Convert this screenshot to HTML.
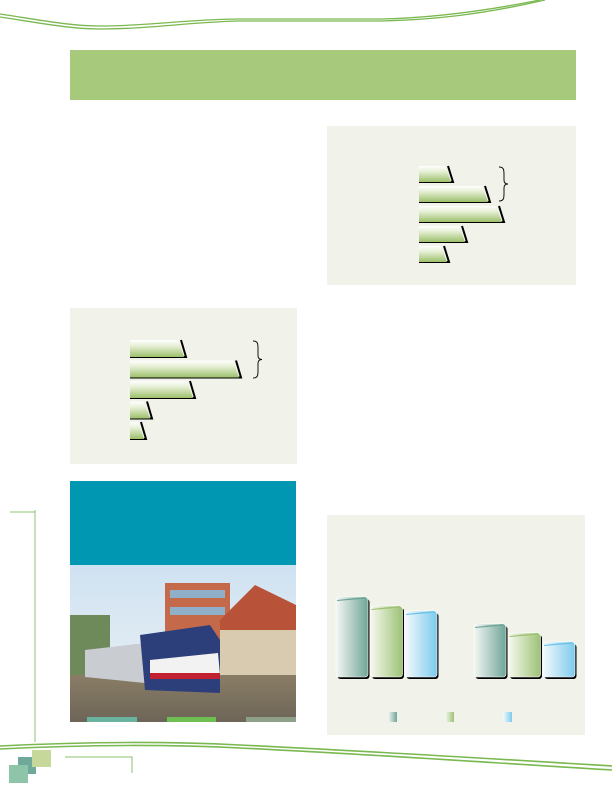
<!DOCTYPE html>
<html><head><meta charset="utf-8"><style>
html,body{margin:0;padding:0;background:#fff}
body{width:612px;height:792px;position:relative;overflow:hidden;font-family:"Liberation Sans",sans-serif}
.abs{position:absolute}
</style></head><body>
<svg class="abs" style="left:0;top:0" width="612" height="792">
  <g fill="none" stroke="#7ab850" stroke-width="1.3">
    <path d="M0,14 C40,20 70,26 100,26 C150,26 190,19 240,19 L380,19 C430,18 480,12 540,0"/>
    <path d="M0,17 C40,23 70,29 100,29 C150,29 190,22 240,21 L380,21 C430,20 480,15 545,0"/>
  </g>
  <g fill="none" stroke="#7ab850" stroke-width="1.6">
    <path d="M0,746 C80,742 160,741 240,745 C350,750 480,758 612,766"/>
    <path d="M0,749 C80,745 160,744 240,748 C350,753 480,762 612,770"/>
  </g>
  <path d="M35,510 L35,742 M10,512 L35,512" stroke="#8cc070" stroke-width="1" fill="none"/>
  <path d="M65,757 L132,757 L132,773" stroke="#8cc070" stroke-width="1" fill="none"/>
  <rect x="18" y="757" width="18" height="17" fill="#6fa99a"/>
  <rect x="9" y="765" width="19" height="18" fill="#8ec4aa"/>
  <rect x="32" y="750" width="19" height="17" fill="#c6d89a"/>
</svg>

<div class="abs" style="left:70px;top:50px;width:506px;height:50px;background:#a6c97c"></div>

<div class="abs" style="left:327px;top:126px;width:249px;height:159px;background:#f1f2ea"></div>
<div class="abs" style="left:70px;top:308px;width:227px;height:156px;background:#f1f2ea"></div>
<div class="abs" style="left:327px;top:515px;width:258px;height:220px;background:#f1f2ea"></div>

<svg class="abs" id="hb" style="left:0;top:0" width="612" height="792">
  <defs>
    <linearGradient id="gb" x1="0" y1="0" x2="0" y2="1">
      <stop offset="0" stop-color="#ffffff"/><stop offset="0.35" stop-color="#e6efd5"/><stop offset="1" stop-color="#9cc06a"/>
    </linearGradient>
    <linearGradient id="v1" x1="0" y1="0" x2="1" y2="0"><stop offset="0" stop-color="#f4f7f4"/><stop offset="1" stop-color="#6fa597"/></linearGradient>
    <linearGradient id="v2" x1="0" y1="0" x2="1" y2="0"><stop offset="0" stop-color="#f6f9ee"/><stop offset="1" stop-color="#9dc276"/></linearGradient>
    <linearGradient id="v3" x1="0" y1="0" x2="1" y2="0"><stop offset="0" stop-color="#f4f9fd"/><stop offset="1" stop-color="#7ccbec"/></linearGradient>
  </defs>
</svg>

<div class="abs" style="left:70px;top:481px;width:226px;height:84px;background:#0097b2"></div>
<svg class="abs" style="left:70px;top:565px" width="226" height="157">
  <defs>
    <linearGradient id="sky" x1="0" y1="0" x2="0" y2="1"><stop offset="0" stop-color="#cfe2f2"/><stop offset="1" stop-color="#eef3f4"/></linearGradient>
    <linearGradient id="gnd" x1="0" y1="0" x2="0" y2="1"><stop offset="0" stop-color="#8a7d66"/><stop offset="1" stop-color="#6d6558"/></linearGradient>
  </defs>
  <rect width="226" height="157" fill="url(#sky)"/>
  <rect x="0" y="50" width="40" height="60" fill="#6e8a5a"/>
  <rect x="95" y="18" width="65" height="80" fill="#c46a4a"/>
  <rect x="100" y="25" width="55" height="8" fill="#8fb0c8"/>
  <rect x="100" y="42" width="55" height="8" fill="#8fb0c8"/>
  <polygon points="150,55 185,20 226,40 226,70 150,70" fill="#b8533a"/>
  <rect x="150" y="65" width="76" height="60" fill="#d9cbb0"/>
  <rect x="0" y="110" width="226" height="47" fill="url(#gnd)"/>
  <polygon points="15,85 75,78 75,118 15,112" fill="#c9ccd0"/>
  <polygon points="70,70 140,60 150,75 150,128 75,125" fill="#2d3f7a"/>
  <polygon points="80,95 148,88 150,110 80,112" fill="#f2f2f2"/>
  <rect x="80" y="108" width="70" height="6" fill="#c02030"/>
  <rect x="17" y="152" width="50" height="5" fill="#6ab39e"/>
  <rect x="97" y="152" width="49" height="5" fill="#6cbf50"/>
  <rect x="176" y="152" width="50" height="5" fill="#8fa08a"/>
</svg>

<svg class="abs" id="vb" style="left:327px;top:515px" width="258" height="220"></svg>

<script>
// Top-right horizontal bar chart data
const trValues = [30, 67, 81, 44, 26];
// Left horizontal bar chart data
const lfValues = [52, 107, 61, 18, 12];
// Grouped vertical bar chart data
const groups = ["group-1", "group-2"];
const series1 = [80, 53];
const series2 = [71, 44];
const series3 = [66, 35];

const NS = "http://www.w3.org/2000/svg";
function mk(tag, attrs, parent){const e=document.createElementNS(NS,tag);for(const k in attrs)e.setAttribute(k,attrs[k]);parent.appendChild(e);return e;}

const hb = document.getElementById('hb');
function hbar(values, x0, y0, step, h, prefix){
  const xs = v => x0 + v;
  values.forEach((v,i)=>{
    const y = y0 + i*step;
    const x1 = xs(v);
    const sh = mk('path',{d:`M${x0},${y+h} L${x1+4},${y+h} L${x1-1},${y} `,stroke:'#000','stroke-width':2,fill:'none'},hb);
    
    
    const p = mk('path',{d:`M${x0},${y} L${x1-4},${y} L${x1+2},${y+h} L${x0},${y+h} Z`,fill:'url(#gb)'},hb);
    
    
  });
}
hbar(trValues, 419, 166, 20, 16, 'top-right');
hbar(lfValues, 130, 340, 20.5, 17, 'left');
function brace(x,y1,y2,name){
  const m=(y1+y2)/2;
  const b=mk('path',{d:`M${x},${y1} C${x+5},${y1} ${x+5},${y1+3} ${x+5},${y1+8} L${x+5},${m-4} C${x+5},${m-1} ${x+7},${m} ${x+9},${m} C${x+7},${m} ${x+5},${m+1} ${x+5},${m+4} L${x+5},${y2-8} C${x+5},${y2-3} ${x+5},${y2} ${x},${y2}`,stroke:'#111','stroke-width':1,fill:'none'},hb);
  
  
}
brace(499,167,201,'top-right-brace');
brace(253,341,378,'left-brace');

const vb = document.getElementById('vb');
const baseY = 162, scale = 1.0;
const yOf = v => baseY - v*scale;
const groupX = [9, 147];
const barW = 32, gap = 2.5;
const allSeries = [series1, series2, series3];
const fills = ['url(#v1)','url(#v2)','url(#v3)'];
const tops = ['#6fa597','#9dc276','#6cc2e8'];
groups.forEach((g,gi)=>{
  allSeries.forEach((s,si)=>{
    const x = groupX[gi] + si*(barW+gap);
    const y = yOf(s[gi]);
    const sh = mk('rect',{x:x+1.5,y:y+2,width:barW,height:baseY-y,rx:3,fill:'#000'},vb);
    
    
    const r = mk('rect',{x:x,y:y,width:barW,height:baseY-y,rx:3,fill:fills[si],stroke:'#fff','stroke-width':0.6},vb);
    
    
    const t = mk('path',{d:`M${x+1},${y+3} L${x+barW-3},${y} L${x+barW-1},${y+1.5} L${x+1},${y+4}Z`,fill:tops[si]},vb);
    
    
  });
});
const legX = [61, 118, 176];
legX.forEach((x,i)=>{
  const l = mk('rect',{x:x,y:197,width:9,height:10,fill:fills[i]},vb);
  
  
});
</script>
</body></html>
